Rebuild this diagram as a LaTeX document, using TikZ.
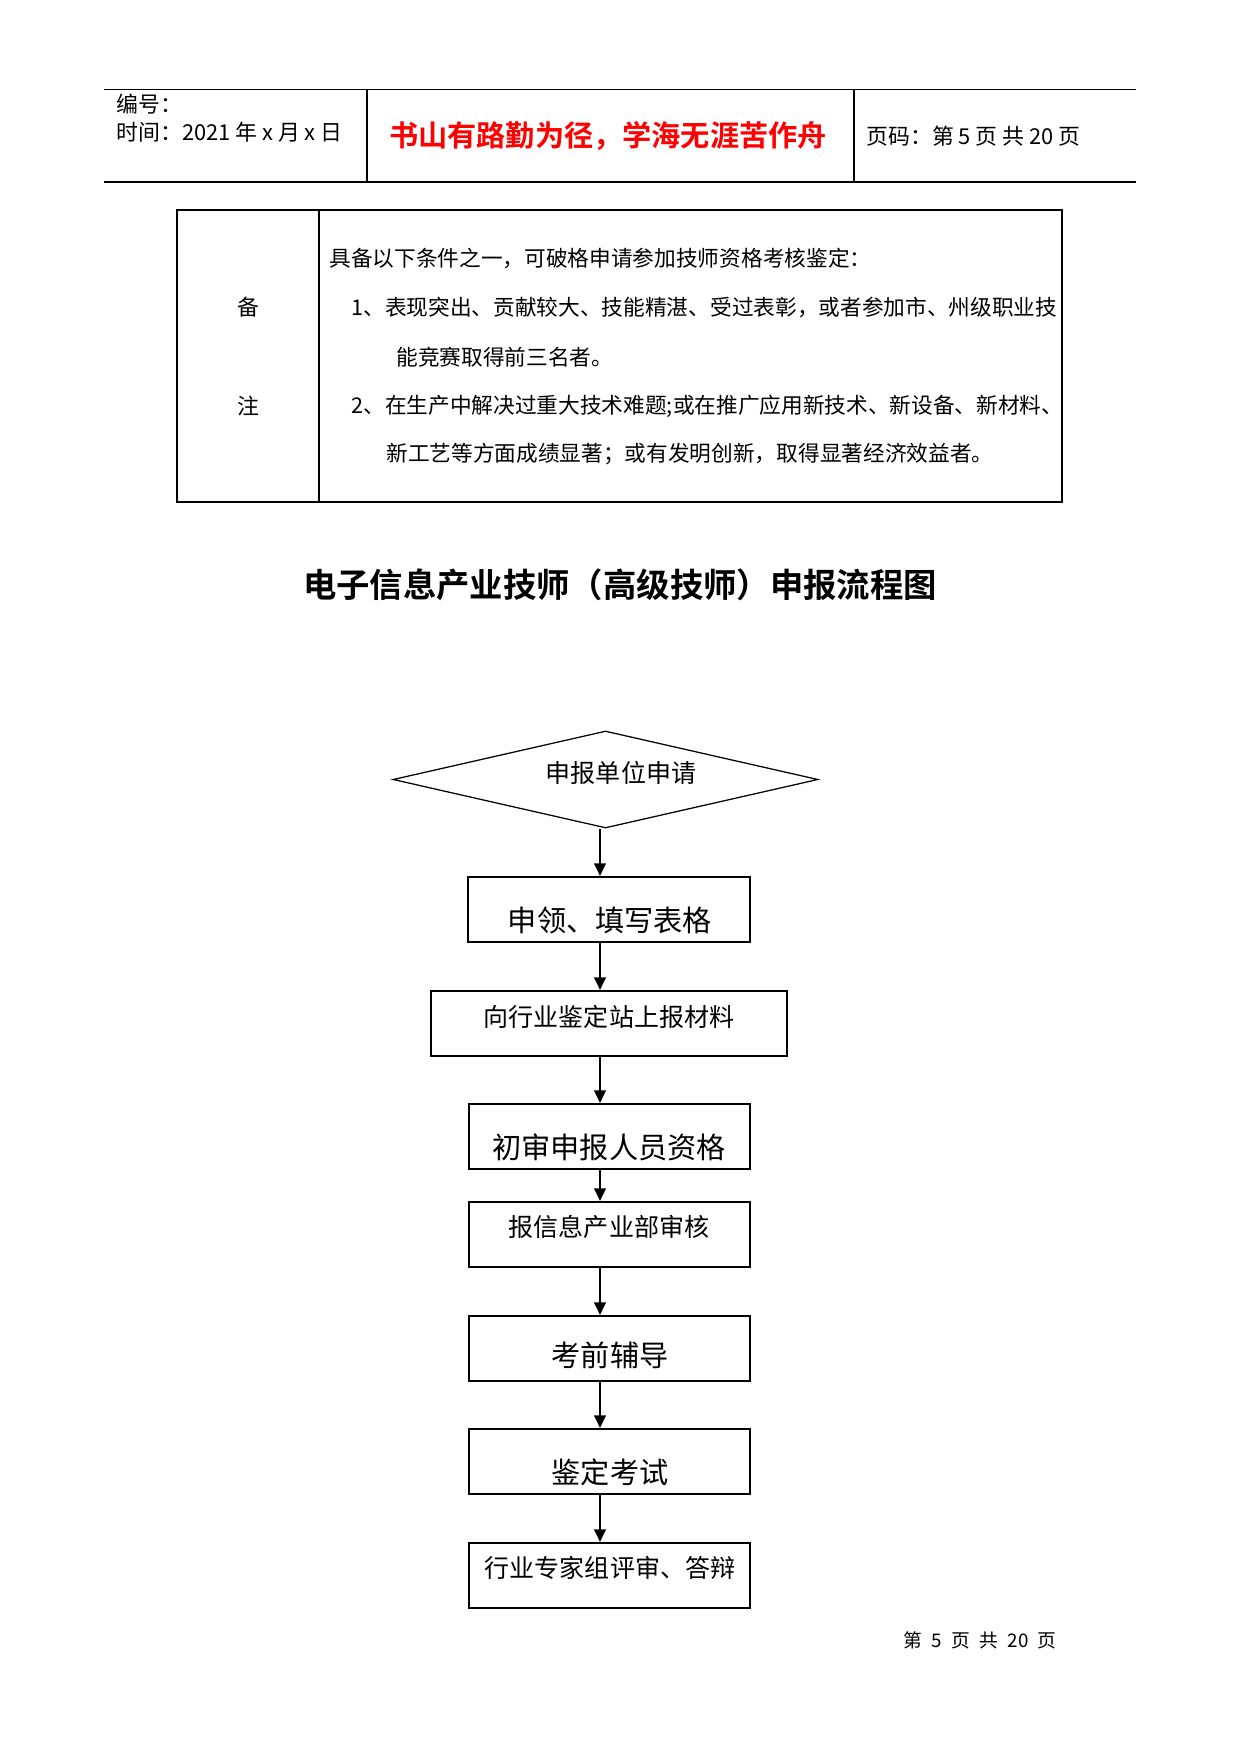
\documentclass[tikz,border=0pt]{standalone}
\usepackage{fontspec}
\setmainfont{Noto Sans CJK SC}[BoldFont={Noto Sans CJK SC Bold}]
\usetikzlibrary{arrows.meta,shapes.geometric}
\newdimen\pxu \pxu=0.47969pt
\newcommand\fsz[1]{\fontsize{#1}{#1}\selectfont}
\begin{document}
\begin{tikzpicture}[x=0.47969pt,y=-0.47969pt,
  hdr/.style={line width=0.9pt},
  tbl/.style={line width=0.75pt},
  txt/.style={inner sep=0pt,anchor=west},
  boxst/.style={draw,rectangle,line width=1pt,inner sep=0pt},
  bigt/.style={inner sep=0pt,font=\fsz{14pt}},
  smt/.style={inner sep=0pt,font=\fsz{12pt}},
  arr/.style={line width=1pt,-{Triangle[length=6pt,width=5.5pt]}}]
\useasboundingbox (0,0) rectangle (1241,1754);
% header
\draw[hdr] (104,89.5) -- (1136,89.5);
\draw[hdr] (104,182) -- (1136,182);
\draw[hdr] (367,89.5) -- (367,182);
\draw[hdr] (854,89.5) -- (854,182);
\node[txt,font=\fsz{10.5pt}] (bh) at (116,104) {编号：};
\node[txt,font=\fsz{10.5pt}] (sj) at (116,132) {时间：2021 年 x 月 x 日};
\node[inner sep=0pt,font=\fsz{14pt}\bfseries,text=red] (motto) at (608,136) {书山有路勤为径，学海无涯苦作舟};
\node[txt,font=\fsz{10.5pt}] (ym) at (866,136) {页码：第 5 页 共 20 页};
% remarks table
\draw[tbl] (177,210) rectangle (1062,502);
\draw[tbl] (319,210) -- (319,502);
\node[inner sep=0pt,font=\fsz{10.5pt}] (bei) at (248,307) {备};
\node[inner sep=0pt,font=\fsz{10.5pt}] (zhu) at (248,406) {注};
\node[txt,font=\fsz{10.4pt}] (l1) at (329,258) {具备以下条件之一，可破格申请参加技师资格考核鉴定：};
\node[txt,font=\fsz{10.4pt}] (l2) at (351,307) {1、表现突出、贡献较大、技能精湛、受过表彰，或者参加市、州级职业技};
\node[txt,font=\fsz{10.4pt}] (l3) at (396,357) {能竞赛取得前三名者。};
\node[txt,font=\fsz{10.4pt}] (l4) at (351,406) {2、在生产中解决过重大技术难题;或在推广应用新技术、新设备、新材料、};
\node[txt,font=\fsz{10.4pt}] (l5) at (386,454) {新工艺等方面成绩显著；或有发明创新，取得显著经济效益者。};
% title
\node[inner sep=0pt,font=\fsz{16pt}\bfseries] (title) at (620,585) {电子信息产业技师（高级技师）申报流程图};
% flowchart
\coordinate (ax) at (600,0);
\node[draw,diamond,line width=0.6pt,inner sep=0pt,aspect=4.38,minimum width=425\pxu,minimum height=97\pxu] (dia) at (605.5,779.5) {};
\node[smt] (diat) at (621,773) {申报单位申请};
\node[boxst,minimum width=282\pxu,minimum height=65\pxu] (b1) at (609,909.5) {};
\node[bigt] (b1t) at (610,920) {申领、填写表格};
\node[boxst,minimum width=356\pxu,minimum height=65\pxu] (b2) at (609,1023.5) {};
\node[smt] (b2t) at (609,1017) {向行业鉴定站上报材料};
\node[boxst,minimum width=281\pxu,minimum height=65\pxu] (b3) at (609.5,1136.5) {};
\node[bigt] (b3t) at (609,1147) {初审申报人员资格};
\node[boxst,minimum width=281\pxu,minimum height=65\pxu] (b4) at (609.5,1234.5) {};
\node[smt] (b4t) at (609,1227) {报信息产业部审核};
\node[boxst,minimum width=281\pxu,minimum height=65\pxu] (b5) at (609.5,1348.5) {};
\node[bigt] (b5t) at (610,1355) {考前辅导};
\node[boxst,minimum width=281\pxu,minimum height=65\pxu] (b6) at (609.5,1461.5) {};
\node[bigt] (b6t) at (610,1472) {鉴定考试};
\node[boxst,minimum width=281\pxu,minimum height=65\pxu] (b7) at (609.5,1575.5) {};
\node[smt] (b7t) at (610,1568) {行业专家组评审、答辩};
\draw[arr] (dia.south -| ax) -- (b1.north -| ax);
\draw[arr] (b1.south -| ax) -- (b2.north -| ax);
\draw[arr] (b2.south -| ax) -- (b3.north -| ax);
\draw[arr] (b3.south -| ax) -- (b4.north -| ax);
\draw[arr] (b4.south -| ax) -- (b5.north -| ax);
\draw[arr] (b5.south -| ax) -- (b6.north -| ax);
\draw[arr] (b6.south -| ax) -- (b7.north -| ax);
% footer
\node[txt,font=\fsz{9pt}] (foot) at (903,1640) {第\enspace 5\enspace 页\enspace 共\enspace 20\enspace 页};
\end{tikzpicture}
\end{document}
